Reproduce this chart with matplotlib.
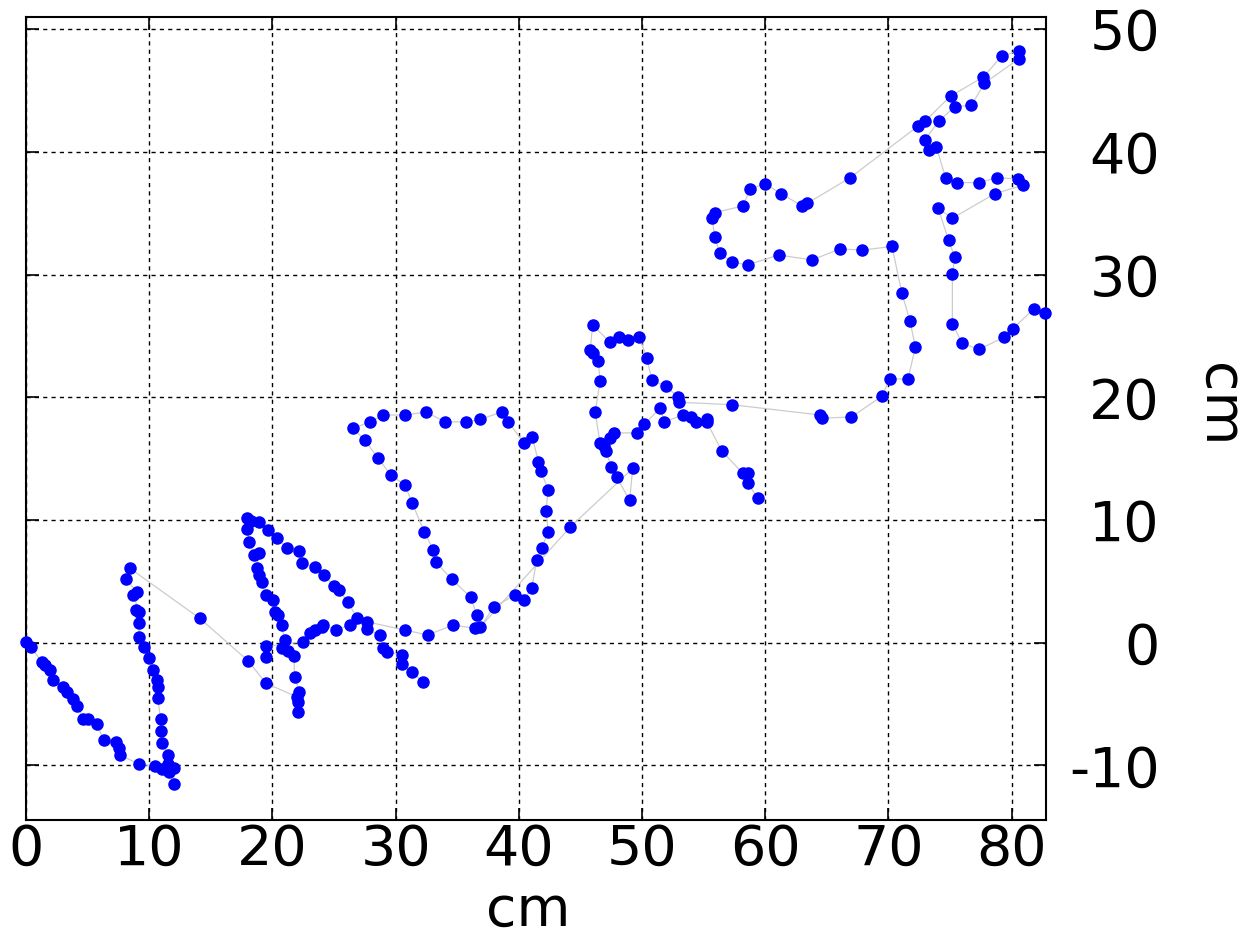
import matplotlib

matplotlib.use("Agg")
import matplotlib.pyplot as plt

plt.rcParams["axes.unicode_minus"] = False

# stroke 1: down-and-up stroke at the left, ends on the hover point near (14, 2)
n_x = [0.0, 0.38, 1.27, 1.54, 1.95, 2.17, 3.03, 3.3, 3.84, 4.17, 4.65, 5.06, 5.73, 6.33, 7.3, 7.57, 7.63,
       9.2, 10.47, 11.0, 11.6, 12.0, 12.0, 11.5, 11.55, 11.06, 10.93, 10.93, 10.69, 10.74, 10.6, 10.33,
       9.96, 9.58, 9.2, 9.15, 8.93, 9.2, 8.71, 8.98, 8.12, 8.44, 14.1]
n_y = [0.08, -0.33, -1.55, -1.82, -2.23, -3.04, -3.59, -3.99, -4.61, -5.16, -6.22, -6.24, -6.63, -7.93,
       -8.12, -8.6, -9.15, -9.91, -10.02, -10.3, -10.5, -10.2, -11.5, -9.9, -9.15, -8.2, -7.2, -6.22,
       -4.53, -3.58, -3.04, -2.23, -1.27, -0.33, 0.49, 1.58, 2.66, 2.5, 3.89, 4.16, 5.19, 6.06, 1.99]

# "A" legs
a_x = [18.05, 19.48, 21.97, 22.1, 22.1, 22.19, 21.8, 21.75, 21.3, 20.8, 21.0, 20.75, 20.48, 20.2, 20.07,
       19.48, 19.13, 18.94, 18.72, 18.9, 18.5, 18.13, 17.9, 17.9, 18.3, 18.9, 19.67, 20.4, 21.2, 22.2,
       22.4, 23.46, 24.2, 25.0, 25.4, 26.1, 26.9, 27.7, 28.7, 29.0, 29.3, 30.5, 30.5, 31.3, 32.25]
a_y = [-1.49, -3.31, -4.4, -5.62, -4.8, -3.99, -2.8, -1.1, -0.7, -0.4, 0.2, 1.44, 2.26, 2.5, 3.48, 3.89,
       4.97, 5.52, 6.06, 7.3, 7.15, 8.23, 9.24, 10.2, 9.94, 9.86, 9.18, 8.5, 7.74, 7.5, 6.47, 6.19, 5.5,
       4.6, 4.3, 3.34, 2.0, 1.1, 0.63, -0.46, -0.73, -1.0, -1.7, -2.4, -3.18]

# crossbar and the loop
loop_x = [19.5, 19.5, 22.5, 23.05, 23.5, 24.0, 24.1, 25.2, 26.3, 27.65, 30.76, 32.6, 34.7, 36.45, 36.6,
          36.1, 34.55, 33.25, 33.06, 32.33, 31.36, 30.76, 29.6, 28.6, 27.5, 26.57, 27.9, 29.0, 30.76,
          32.5, 34.0, 35.7, 36.85, 38.6, 39.15, 40.45, 41.1, 41.6, 41.8, 42.4, 42.2, 42.4, 41.86, 41.45,
          41.05, 40.4, 39.7, 38.0, 36.85]
loop_y = [-1.2, -0.3, 0.08, 0.77, 1.03, 1.3, 1.44, 1.03, 1.44, 1.71, 1.03, 0.63, 1.44, 1.17, 2.26, 3.7,
          5.19, 6.6, 7.55, 9.05, 11.36, 12.85, 13.67, 15.03, 16.5, 17.47, 18.0, 18.56, 18.56, 18.8, 18.0,
          18.0, 18.2, 18.8, 18.0, 16.25, 16.74, 14.75, 14.0, 12.45, 10.76, 9.05, 7.7, 6.74, 4.43, 3.48,
          3.89, 2.94, 1.25]

# "R" stem and bowl
r_x = [44.2, 49.25, 49.0, 47.95, 47.5, 47.1, 46.9, 46.6, 46.2, 46.6, 46.45, 46.0, 45.8, 46.0, 47.4, 48.1,
       48.9, 49.8, 50.4, 50.8, 51.95, 52.9, 53.0]
r_y = [9.45, 14.2, 11.6, 13.5, 14.35, 15.6, 16.0, 16.3, 18.8, 21.3, 23.0, 23.6, 23.85, 25.9, 24.5, 24.9,
       24.7, 24.9, 23.2, 21.4, 20.9, 20.05, 19.6]

# "R" leg, drawn as its own stroke
rleg_x = [47.4, 47.7, 49.6, 50.2, 51.5, 51.8, 53.35, 54.0, 54.4, 55.25, 55.25, 56.5, 58.2, 58.6, 58.6, 59.4]
rleg_y = [16.66, 17.1, 17.1, 17.8, 19.15, 18.0, 18.56, 18.4, 18.0, 18.2, 18.0, 15.6, 13.8, 13.8, 13.0, 11.8]

# long connector, upper loop and the "K"
k_x = [57.3, 64.45, 64.6, 67.0, 69.5, 70.1, 71.6, 72.2, 71.75, 71.1, 70.3, 67.9, 66.1, 63.8, 61.1, 58.6,
       57.3, 56.3, 55.9, 55.7, 55.9, 58.2, 58.8, 60.0, 61.3, 63.0, 63.4, 66.9, 72.4, 72.97, 75.05, 77.7,
       79.2, 80.6, 80.6, 77.8, 76.75, 75.4, 74.1, 72.97, 73.3, 73.9]
k_y = [19.4, 18.56, 18.3, 18.4, 20.1, 21.5, 21.5, 24.1, 26.25, 28.5, 32.3, 32.0, 32.1, 31.2, 31.6, 30.8,
       31.0, 31.8, 33.1, 34.6, 35.05, 35.6, 37.0, 37.4, 36.6, 35.6, 35.8, 37.9, 42.1, 42.5, 44.55, 46.1,
       47.8, 48.25, 47.6, 45.6, 43.8, 43.7, 42.5, 41.0, 40.15, 40.4]

# last letter
e_x = [74.65, 75.6, 77.35, 78.8, 80.55, 80.95, 78.65, 75.2, 74.05, 74.9, 75.4, 75.2, 75.2, 76.0, 77.35,
       79.4, 80.1, 81.8, 82.7]
e_y = [37.9, 37.5, 37.5, 37.9, 37.8, 37.3, 36.6, 34.6, 35.4, 32.8, 31.4, 30.05, 26.0, 24.4, 23.9, 24.9,
       25.6, 27.2, 26.85]

x_ticks = [0, 10, 20, 30, 40, 50, 60, 70, 80]
y_ticks = [-10, 0, 10, 20, 30, 40, 50]

strokes = [
    (n_x + a_x, n_y + a_y),
    (loop_x + r_x + k_x + e_x, loop_y + r_y + k_y + e_y),
    (rleg_x, rleg_y),
]

fig = plt.figure(figsize=(12.49, 9.38), dpi=100)
ax = fig.add_axes([26 / 1249, 1 - 820 / 938, 1020 / 1249, 803 / 938])

for xs, ys in strokes:
    ax.plot(xs, ys, color="#cccccc", linewidth=0.9, zorder=2)
for xs, ys in strokes:
    ax.plot(xs, ys, linestyle="none", marker="o", markersize=8, color="#0000ff",
            markeredgecolor="#0000ff", zorder=3, clip_on=False)

ax.set_xlim(0, 82.8)
ax.set_ylim(-14.45, 51.0)
ax.set_xticks(x_ticks)
ax.set_yticks(y_ticks)
ax.set_axisbelow(True)
ax.grid(True, color="black", linestyle=(0, (3, 3)), linewidth=1.0)
for spine in ax.spines.values():
    spine.set_linewidth(1.5)

ax.tick_params(axis="both", direction="in", length=9, width=1.2, top=True, right=True,
               labelsize=40)
ax.tick_params(axis="y", labelleft=False, labelright=True, pad=82)
ax.tick_params(axis="x", pad=2)
for tick in ax.yaxis.get_major_ticks():
    tick.label2.set_horizontalalignment("right")

ax.set_xlabel("cm", fontsize=40, va="center")
ax.xaxis.set_label_coords(0.492, -0.113)
ax.yaxis.set_label_position("right")
ax.set_ylabel("cm", fontsize=40, rotation=270, va="center", ha="center")
ax.yaxis.set_label_coords(1.169, 0.517)

fig.savefig("out.png", dpi=100)
plt.close(fig)
